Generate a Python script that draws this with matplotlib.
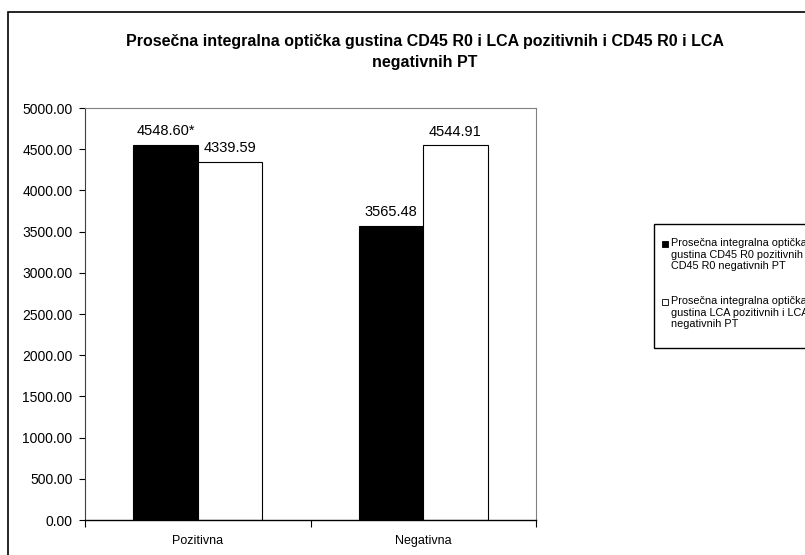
import matplotlib.pyplot as plt
import matplotlib.patches as mpatches
import numpy as np

plt.rcParams['font.family'] = ['Liberation Sans', 'DejaVu Sans']

# data
categories = ['Pozitivna', 'Negativna']
cd45_vals = [4548.60, 3565.48]
lca_vals = [4339.59, 4544.91]
cd45_labels = ['4548.60*', '3565.48']
lca_labels = ['4339.59', '4544.91']
legend_labels = [
    'Prosečna integralna optička\ngustina CD45 R0 pozitivnih i\nCD45 R0 negativnih PT',
    'Prosečna integralna optička\ngustina LCA pozitivnih i LCA\nnegativnih PT',
]
legend_colors = ['black', 'white']
title = 'Prosečna integralna optička gustina CD45 R0 i LCA pozitivnih i CD45 R0 i LCA\nnegativnih PT'

W, H = 805, 555
fig = plt.figure(figsize=(W/100, H/100), dpi=100)
ax = fig.add_axes([85/W, 35/H, 451/W, 412/H])

# outer chart frame
fig.patches.append(mpatches.Rectangle((8/W, -0.1), 1.2, 1.1 - 12/H,
                                      transform=fig.transFigure, fill=False,
                                      edgecolor='black', linewidth=1.2))

x = np.arange(len(categories)) + 0.5
w = 1 / 3.5
b1 = ax.bar(x - w/2, cd45_vals, w, color='black', edgecolor='black', linewidth=0.8)
b2 = ax.bar(x + w/2, lca_vals, w, color='white', edgecolor='black', linewidth=0.8)

for bars, labs in [(b1, cd45_labels), (b2, lca_labels)]:
    for rect, lab in zip(bars, labs):
        ax.annotate(lab, (rect.get_x() + rect.get_width()/2, rect.get_height()),
                    xytext=(0, 5), textcoords='offset points',
                    ha='center', va='bottom', fontsize=10.5)

ax.set_xlim(0, 2)
ax.set_ylim(0, 5000)
yt = np.arange(0, 5001, 500)
ax.set_yticks(yt)
ax.set_yticklabels(['%.2f' % v for v in yt], fontsize=10)
ax.set_xticks(x)
ax.set_xticklabels(categories, fontsize=9)
ax.set_xticks([0, 1, 2], minor=True)
ax.tick_params(axis='x', which='major', length=0, pad=11)
ax.tick_params(axis='x', which='minor', length=5, direction='out', width=0.8)
ax.tick_params(axis='y', length=4, direction='out', width=0.8, pad=5)

for s in ['top', 'right']:
    ax.spines[s].set_color('#808080')
    ax.spines[s].set_linewidth(0.8)
ax.spines['left'].set_color('#404040')
ax.spines['left'].set_linewidth(0.8)
ax.spines['bottom'].set_linewidth(1.0)

fig.text(425/W, 1 - 52/H, title, ha='center', va='center',
         fontsize=11.5, fontweight='bold', linespacing=1.55)

# legend box (Excel style, runs off the right edge)
fig.patches.append(mpatches.Rectangle((654/W, 1 - 348/H), 0.5, 124/H,
                                      transform=fig.transFigure, fill=False,
                                      edgecolor='black', linewidth=1.0))
for i, (lab, col) in enumerate(zip(legend_labels, legend_colors)):
    y0 = 244 + i * 58
    fig.patches.append(mpatches.Rectangle((662/W, 1 - (y0 + 3)/H), 6/W, 6/H,
                                          transform=fig.transFigure,
                                          facecolor=col, edgecolor='black',
                                          linewidth=0.6))
    fig.text(671/W, 1 - (y0 - 6)/H, lab, ha='left', va='top',
             fontsize=7.8, linespacing=1.2)

plt.savefig('out.png', dpi=100)
